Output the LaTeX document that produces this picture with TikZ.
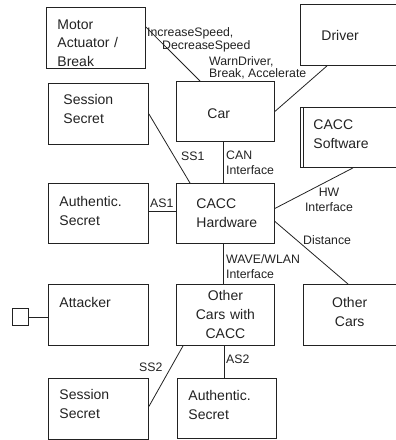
\documentclass[tikz,border=0pt]{standalone}
\usepackage{fontspec}
\setmainfont{Liberation Sans}
\definecolor{ink}{HTML}{222222}
\newcommand\myh[1]{\rule{0pt}{#1pt}}
\newcommand\myd[1]{\rule[-#1pt]{0pt}{#1pt}}
\begin{document}
\begin{tikzpicture}[x=1pt,y=-1pt,
  box/.style={draw=ink, line width=0.9pt, anchor=north west, inner ysep=0pt,
    align=left, font=\fontsize{14}{19}\selectfont, text=ink},
  lbl/.style={inner sep=0pt, font=\fontsize{12.3}{13}\selectfont, text=ink, align=left},
  conn/.style={draw=ink, line width=0.8pt}]
\useasboundingbox (0,0) rectangle (396,440);
% boxes
\node[box, minimum width=99pt, minimum height=61pt, inner xsep=11pt, text width=77pt,
  font=\fontsize{14}{18.5}\selectfont] (motor) at (46,7) {\myh{20}Motor\\Actuator /\\Break};
\node[box, minimum width=100pt, minimum height=61pt, inner xsep=15pt, text width=70pt] (ss1) at (48,83) {Session\\Secret\myd{10}};
\node[box, minimum width=98pt, minimum height=60pt, inner xsep=31pt, text width=36pt] (car) at (176,81) {\myh{14}Car};
\node[box, minimum width=105pt, minimum height=61pt, inner xsep=21pt, text width=63pt] (driver) at (300,4) {\myh{12}Driver};
\node[box, minimum width=105pt, minimum height=60pt, inner xsep=13pt, text width=79pt] (soft) at (300,107) {CACC\\Software\myd{7}};
\node[box, minimum width=98pt, minimum height=60pt, inner xsep=20pt, text width=58pt] (hw) at (176,183) {CACC\\Hardware\myd{1}};
\node[box, minimum width=100pt, minimum height=60pt, inner xsep=11pt, text width=78pt] (auth1) at (48,183) {Authentic.\\Secret\myd{5}};
\node[box, minimum width=100pt, minimum height=61pt, inner xsep=11pt, text width=78pt] (attacker) at (48,284) {Attacker\myd{25}};
\node[box, minimum width=98pt, minimum height=61pt, inner xsep=4pt, text width=90pt, align=center] (occ) at (176,284) {Other\\Cars with\\CACC\myd{1}};
\node[box, minimum width=92.5pt, minimum height=61pt, inner xsep=4pt, text width=84.5pt, align=center] (oc) at (303,284) {Other\\Cars\myd{6}};
\node[box, minimum width=100pt, minimum height=61pt, inner xsep=11pt, text width=78pt] (ss2) at (48,378) {Session\\Secret\myd{10}};
\node[box, minimum width=99pt, minimum height=60pt, inner xsep=11pt, text width=77pt] (auth2) at (177,378) {Authentic.\\Secret\myd{7}};
\node[draw=ink, line width=0.9pt, anchor=north west, inner sep=0pt, minimum width=16pt, minimum height=17pt] (sq) at (12,308) {};
% double left edge of software box
\draw[conn, line width=0.9pt] ([xshift=3.5pt]soft.north west) -- ([xshift=3.5pt]soft.south west);
% connectors
\draw[conn] ([yshift=-20pt]motor.north east) -- ([xshift=24pt]car.north west);
\draw[conn] (car.east) -- ([xshift=27pt]driver.south west);
\draw[conn] (ss1.east) -- ([xshift=14pt]hw.north west);
\draw[conn] ([xshift=-2pt]car.south) -- ([xshift=-2pt]hw.north);
\draw[conn] ([yshift=2pt]auth1.east) -- ([yshift=2pt]hw.west);
\draw[conn] ([yshift=5pt]hw.east) -- ([xshift=53pt]soft.south west);
\draw[conn] ([yshift=-8pt]hw.east) -- ([xshift=45pt]oc.north west);
\draw[conn] ([xshift=-2pt]hw.south) -- ([xshift=-2pt]occ.north);
\draw[conn] (sq.east) -- (sq.east -| attacker.west);
\draw[conn] ([xshift=7pt]occ.south west) -- ([yshift=2.5pt]ss2.east);
\draw[conn] ([xshift=-1pt]occ.south) -- ([xshift=-1pt]occ.south |- auth2.north);
% labels
\node[lbl, anchor=north west] (lisd) at (147,27) {IncreaseSpeed,\\\hspace*{15pt}DecreaseSpeed};
\node[lbl, anchor=north west, font=\fontsize{12.3}{12}\selectfont] (lwba) at (209,56) {WarnDriver,\\Break, Accelerate};
\node[lbl, anchor=north west] (lss1) at (181,152) {SS1};
\node[lbl, anchor=north west, font=\fontsize{12.3}{15}\selectfont] (lcan) at (226,151) {CAN\\Interface};
\node[lbl, anchor=north, align=center, font=\fontsize{12.3}{15}\selectfont] (lhw) at (329,188) {HW\\Interface};
\node[lbl, anchor=north west] (ldist) at (303,235) {Distance};
\node[lbl, anchor=north west, font=\fontsize{12.3}{15}\selectfont] (lwave) at (226,254) {WAVE/WLAN\\Interface};
\node[lbl, anchor=north west] (las1) at (150,199) {AS1};
\node[lbl, anchor=north west] (lss2) at (139,363) {SS2};
\node[lbl, anchor=north west] (las2) at (226,355) {AS2};
\end{tikzpicture}
\end{document}
